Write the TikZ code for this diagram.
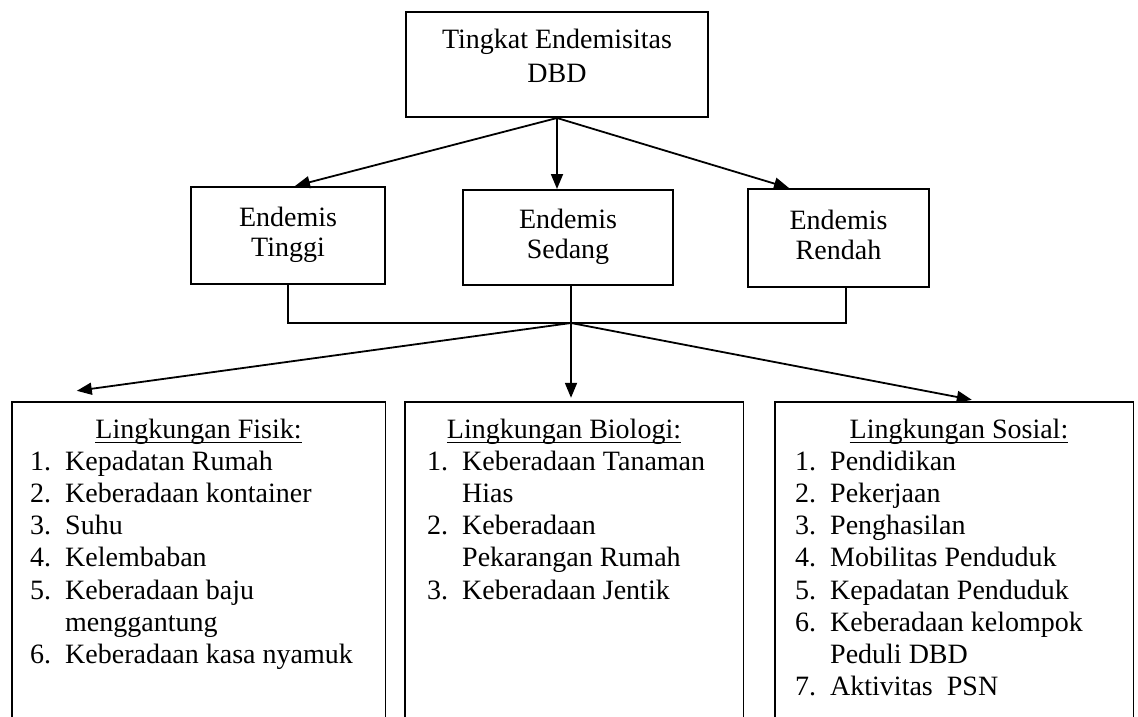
\documentclass[tikz,border=0pt]{standalone}
\usepackage{fontspec}
\setmainfont{Liberation Serif}
\usetikzlibrary{arrows.meta}
\newcommand\lnum[1]{\makebox[35pt][l]{#1}}
\newcommand\lind{\hspace*{35pt}}
\begin{document}
\begin{tikzpicture}[x=1pt,y=-1pt,
  box/.style={draw, line width=2pt, rectangle, inner sep=0pt, align=center, font=\fontsize{28}{30}\selectfont},
  arr/.style={line width=1.8pt, -{Triangle[length=15pt,width=12pt]}},
  conn/.style={line width=1.8pt},
  lbox/.style={line width=1.4pt},
  area/.style={inner sep=0pt, minimum height=315pt},
  ttl/.style={anchor=base, inner sep=0pt, font=\fontsize{28}{32.2}\selectfont},
  uline/.style={line width=1.2pt},
  lst/.style={anchor=north west, inner sep=0pt, align=left, font=\fontsize{28}{32.2}\selectfont},
]
\useasboundingbox (0,0) rectangle (1138,717);

% top and middle boxes
\node[box, minimum width=302pt, minimum height=105pt, font=\fontsize{28}{34}\selectfont] (top) at (557,64.5) {\strut Tingkat Endemisitas\\\rule[-22.5pt]{0pt}{22.5pt}DBD};
\node[box, minimum width=194pt, minimum height=97pt] (tinggi) at (288,235.5) {\strut Endemis\\\strut Tinggi};
\node[box, minimum width=210pt, minimum height=95pt] (sedang) at (568,237.5) {\strut Endemis\\\strut Sedang};
\node[box, minimum width=181pt, minimum height=98pt] (rendah) at (838.5,238) {\strut Endemis\\\strut Rendah};

\draw[arr] (top.south) -- ([xshift=105pt]tinggi.north west);
\draw[arr] (top.south) -- (top.south |- sedang.north);
\draw[arr] (top.south) -- ([xshift=42pt]rendah.north west);

% joining lines
\coordinate (j) at (571,323);
\coordinate (sd) at ([xshift=3pt]sedang.south);
\coordinate (rd) at ([xshift=7.5pt]rendah.south);
\draw[conn] (tinggi.south) -- (tinggi.south |- j) -- (rd |- j) -- (rd);
\draw[conn] (sd) -- (j);

% bottom boxes (open at the bottom edge)
\node[area, minimum width=373pt] (fisik) at (198.5,559.5) {};
\node[area, minimum width=338pt] (bio) at (574,559.5) {};
\node[area, minimum width=358pt] (sos) at (954,559.5) {};
\foreach \b in {fisik,bio,sos}
  \draw[lbox] (\b.south west) -- (\b.north west) -- (\b.north east) -- (\b.south east);

\draw[arr] (j) -- ([xshift=65pt,yshift=11pt]fisik.north west);
\draw[arr] (j) -- ([yshift=4pt]j |- bio.north);
\draw[arr] (j) -- ([xshift=197pt,yshift=2pt]sos.north west);

% titles
\node[ttl] (fisikT) at (198.5,438) {Lingkungan Fisik:};
\node[ttl] (bioT) at (564,438) {Lingkungan Biologi:};
\node[ttl] (sosT) at (959,438) {Lingkungan Sosial:};
\foreach \t in {fisikT,bioT,sosT}
  \draw[uline] ([yshift=-4.5pt]\t.base west) -- ([yshift=-4.5pt]\t.base east);

% lists
\node[lst] (fisikL) at (30,447.5) {\strut\lnum{1.}Kepadatan Rumah\\
\lnum{2.}Keberadaan kontainer\\
\lnum{3.}Suhu\\
\lnum{4.}Kelembaban\\
\lnum{5.}Keberadaan baju\\
\lind menggantung\\
\lnum{6.}Keberadaan kasa nyamuk};
\node[lst] (bioL) at (427,447.5) {\strut\lnum{1.}Keberadaan Tanaman\\
\lind Hias\\
\lnum{2.}Keberadaan\\
\lind Pekarangan Rumah\\
\lnum{3.}Keberadaan Jentik};
\node[lst] (sosL) at (795,447.5) {\strut\lnum{1.}Pendidikan\\
\lnum{2.}Pekerjaan\\
\lnum{3.}Penghasilan\\
\lnum{4.}Mobilitas Penduduk\\
\lnum{5.}Kepadatan Penduduk\\
\lnum{6.}Keberadaan kelompok\\
\lind Peduli DBD\\
\lnum{7.}Aktivitas\ \ PSN};
\end{tikzpicture}
\end{document}
